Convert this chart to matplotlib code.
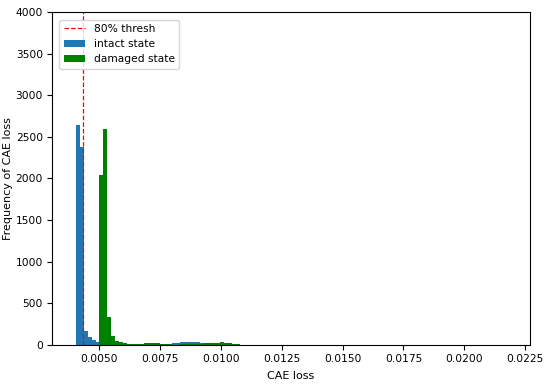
import numpy as np
import matplotlib
matplotlib.use("Agg")
import matplotlib.pyplot as plt

# ---- data ----
bin_width = 0.000165
intact_start = 0.00403
intact_counts = [2640, 2380, 170, 100, 60, 35, 20, 12, 8, 6, 5, 5, 6, 8, 10, 8, 6, 5,
                 5, 6, 8, 10, 12, 15, 20, 25, 30, 35, 32, 35, 30, 20, 15, 10, 6, 4]
damaged_start = 0.00500
damaged_counts = [2040, 2590, 330, 110, 50, 30, 20, 15, 12, 10, 12, 18, 22, 25, 20, 12,
                  8, 6, 5, 5, 6, 8, 8, 10, 12, 15, 18, 20, 25, 28, 30, 28, 22, 12, 6]
threshold = 0.00433
xticks = [0.0050, 0.0075, 0.0100, 0.0125, 0.0150, 0.0175, 0.0200, 0.0225]
yticks = [0, 500, 1000, 1500, 2000, 2500, 3000, 3500, 4000]
labels = ["80% thresh", "intact state", "damaged state"]

intact_edges = intact_start + bin_width * np.arange(len(intact_counts) + 1)
damaged_edges = damaged_start + bin_width * np.arange(len(damaged_counts) + 1)

fs = 7.7
fig = plt.figure(figsize=(5.5, 3.88), dpi=100)
ax = fig.add_axes([0.0945, 0.111, 0.869, 0.858])

ax.axvline(threshold, color="red", linestyle="--", linewidth=0.9, label=labels[0])
ax.hist(intact_edges[:-1], bins=intact_edges, weights=intact_counts,
        color="#1f77b4", label=labels[1])
ax.hist(damaged_edges[:-1], bins=damaged_edges, weights=damaged_counts,
        color="green", label=labels[2])

ax.set_xlim(0.00305, 0.0227)
ax.set_ylim(0, 4000)
ax.set_xticks(xticks)
ax.set_xticklabels([f"{t:.4f}" for t in xticks])
ax.set_yticks(yticks)
ax.tick_params(labelsize=fs, pad=3)
ax.set_xlabel("CAE loss", fontsize=8, labelpad=5)
ax.set_ylabel("Frequency of CAE loss", fontsize=8, labelpad=2)
ax.legend(loc="upper left", fontsize=7.7, borderaxespad=0.7)

fig.savefig("out.png", dpi=100)
